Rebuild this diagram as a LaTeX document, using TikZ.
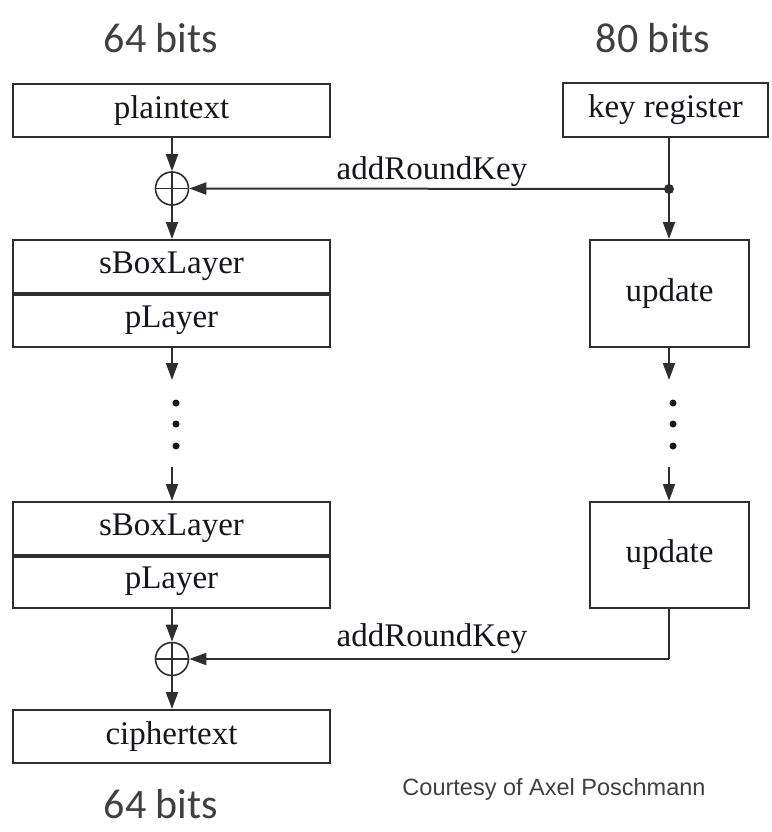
\documentclass[tikz,border=0pt]{standalone}
\usepackage{fontspec}
\newfontfamily\bitsfont{Carlito}
\newfontfamily\creditfont{Liberation Sans}
\newfontfamily\stagefont{Liberation Serif}
\usetikzlibrary{arrows.meta}

\definecolor{framegray}{HTML}{2E2E2E}
\definecolor{inkdark}{HTML}{15151F}
\definecolor{bitsgray}{HTML}{404040}

\begin{document}
\begin{tikzpicture}[x=1pt,y=-1pt,
  stage/.style={draw=framegray, line width=2pt, rectangle, inner sep=0pt,
    text=inkdark, font=\stagefont\fontsize{33}{38}\selectfont},
  xorop/.style={draw=framegray, line width=1.6pt, circle, minimum size=33pt, inner sep=0pt},
  flow/.style={draw=framegray, line width=2pt, -{Triangle[length=17pt,width=12pt]}},
  wire/.style={draw=framegray, line width=2pt},
  lbl/.style={text=inkdark, font=\stagefont\fontsize{33}{38}\selectfont, inner sep=0pt},
  bits/.style={text=bitsgray, font=\bitsfont\fontsize{42}{50}\selectfont, inner sep=0pt},
  vdot/.style={fill=inkdark, circle, inner sep=0pt, minimum size=7pt}
]
\useasboundingbox (0,0) rectangle (771,832);

% word sizes
\node[bits, anchor=base] (b64top) at (161,53) {64 bits};
\node[bits, anchor=base] (b80) at (653,53) {80 bits};

% data path
\node[stage, minimum width=317pt, minimum height=53pt] (pt) at (171.5,110.5) {plaintext};
\node[xorop] (x1) at (172,188.5) {};
\node[stage, minimum width=317pt, minimum height=53pt] (sb1) at (171.5,266.5) {sBoxLayer};
\node[stage, minimum width=317pt, minimum height=54pt] (pl1) at (171.5,320) {pLayer};
\node[stage, minimum width=317pt, minimum height=53pt] (sb2) at (171.5,528.5) {sBoxLayer};
\node[stage, minimum width=317pt, minimum height=53pt] (pl2) at (171.5,581.5) {pLayer};
\node[xorop] (x2) at (172,659) {};
\node[stage, minimum width=317pt, minimum height=53pt] (ct) at (171.5,736.5) {ciphertext};

% heavier seam between the two layers of a round
\draw[draw=framegray, line width=4pt] (sb1.south west) -- (sb1.south east);
\draw[draw=framegray, line width=4pt] (sb2.south west) -- (sb2.south east);

% key schedule
\node[stage, minimum width=205pt, minimum height=54pt] (kr) at (665.5,110) {key register};
\node[stage, minimum width=159pt, minimum height=107pt] (up1) at (669.5,293.5) {update};
\node[stage, minimum width=159pt, minimum height=106pt] (up2) at (669.5,555) {update};

% xor crosses
\draw[wire, line width=1.6pt] (x1.north) -- (x1.south) (x1.west) -- (x1.east);
\draw[wire, line width=1.6pt] (x2.north) -- (x2.south) (x2.west) -- (x2.east);

% helper points
\coordinate (tap) at (669,189);
\coordinate (lgapA) at (172,380);
\coordinate (lgapB) at (172,467);
\coordinate (rgapA) at (669,380);
\coordinate (rgapB) at (669,467);
\coordinate (turn) at (669,659);

% data flow
\draw[flow] (x1 |- pt.south) -- (x1.north);
\draw[flow] (x1.south) -- (x1 |- sb1.north);
\draw[flow] (x1 |- pl1.south) -- (lgapA);
\draw[flow] (lgapB) -- (x1 |- sb2.north);
\draw[flow] (x2 |- pl2.south) -- (x2.north);
\draw[flow] (x2.south) -- (x2 |- ct.north);

% key flow
\draw[wire] (tap |- kr.south) -- (tap);
\fill[framegray] (tap) circle (5pt);
\draw[flow] (tap) -- (tap |- up1.north);
\draw[flow] (tap) -- (x1.east);
\draw[flow] (tap |- up1.south) -- (rgapA);
\draw[flow] (rgapB) -- (tap |- up2.north);
\draw[wire] (tap |- up2.south) -- (turn);
\draw[flow] (turn) -- (x2.east);

\node[lbl, anchor=base] (ark1) at (432,179) {addRoundKey};
\node[lbl, anchor=base] (ark2) at (432,646) {addRoundKey};

% elided rounds
\node[vdot] (ld1) at (176,403) {};
\node[vdot] (ld2) at (176,424) {};
\node[vdot] (ld3) at (176,446) {};
\node[vdot] (rd1) at (673,403) {};
\node[vdot] (rd2) at (673,424) {};
\node[vdot] (rd3) at (673,446) {};

\node[text=bitsgray, font=\creditfont\fontsize{23.5}{27}\selectfont, inner sep=0pt, anchor=base] (credit) at (554,795) {Courtesy of Axel Poschmann};
\node[bits, anchor=base] (b64bot) at (161,818) {64 bits};
\end{tikzpicture}
\end{document}
